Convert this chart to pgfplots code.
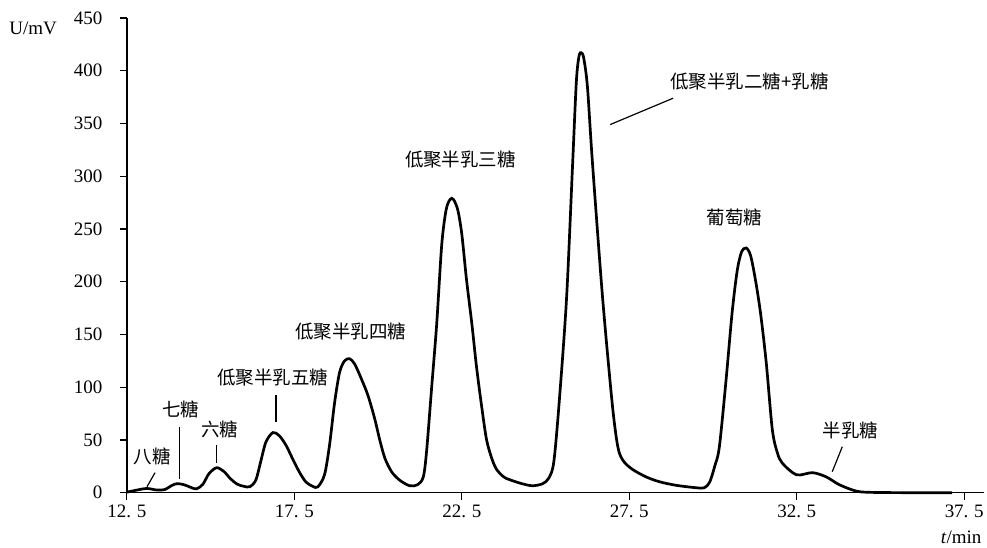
\documentclass[border=0pt]{standalone}
\usepackage{pgfplots}
\pgfplotsset{compat=1.18}
\usepackage{fontspec}
\setmainfont{Liberation Serif}
\newfontfamily\cjk{Noto Sans CJK SC}
\newcommand\lab{\fontsize{19}{22}\selectfont}
\newcommand\cjklab{\cjk\fontsize{18.5}{22}\selectfont}

\begin{document}
\begin{tikzpicture}
\begin{axis}[
    scale only axis,
    width=858pt, height=475pt,
    xmin=12.5, xmax=38.1,
    ymin=0, ymax=450,
    axis x line*=bottom,
    axis y line*=left,
    axis line style={line width=1.4pt, -},
    tick style={line width=1.2pt, black},
    tick align=outside,
    major tick length=7pt,
    xtick={12.5,17.5,22.5,27.5,32.5,37.5},
    xticklabels={12.\hspace{0.3em}5,17.\hspace{0.3em}5,22.\hspace{0.3em}5,27.\hspace{0.3em}5,32.\hspace{0.3em}5,37.\hspace{0.3em}5},
    ytick={0,50,...,450},
    /pgf/number format/assume math mode=true,
    tick label style={font=\lab},
    yticklabel style={xshift=-14pt},
    xticklabel style={yshift=-2pt},
    clip=false,
]
\addplot[black, line width=2.7pt, smooth, tension=0.5] coordinates {
(12.50,0.5) (12.80,2.5) (13.10,4) (13.40,2.5) (13.63,3) (13.85,7)
(13.99,8.5) (14.15,8) (14.29,6.6) (14.45,4.5) (14.59,3.8) (14.77,8)
(14.95,18) (15.18,23.7) (15.40,20) (15.60,13) (15.80,8) (16.00,6)
(16.17,5.7) (16.35,12) (16.50,30) (16.65,48) (16.86,57) (17.05,54)
(17.25,45) (17.45,32) (17.66,19) (17.85,10) (18.05,6) (18.20,5.5)
(18.40,17) (18.55,45) (18.70,85) (18.85,114) (19.00,125) (19.15,127)
(19.30,122) (19.50,108) (19.70,92) (19.90,70) (20.05,50) (20.20,33)
(20.40,20) (20.64,12) (20.94,6.6) (21.18,7.6) (21.35,15) (21.45,40)
(21.60,100) (21.75,160) (21.90,235) (22.03,268) (22.15,278) (22.25,278)
(22.38,268) (22.50,245) (22.64,202) (22.80,160) (22.94,119) (23.10,80)
(23.24,50) (23.40,32) (23.54,22) (23.75,15) (23.93,12.3) (24.30,8.5)
(24.61,6.6) (24.91,8.5) (25.10,14) (25.25,30) (25.42,91) (25.63,186)
(25.81,313) (25.92,390) (26.00,414) (26.07,417) (26.14,412) (26.25,385)
(26.40,313) (26.70,186) (26.97,91) (27.10,55) (27.20,38) (27.35,29)
(27.60,22) (28.00,15) (28.40,10.4) (28.90,7) (29.50,4.7) (29.74,4.7)
(29.90,10) (30.05,25) (30.19,43.6) (30.39,107) (30.57,170.6) (30.72,210)
(30.85,228) (30.99,232) (31.12,225) (31.26,203) (31.42,170) (31.59,123)
(31.77,60) (31.92,38) (32.07,28) (32.49,17) (32.97,19) (33.38,15)
(33.77,7.6) (34.28,1.5) (34.76,0.3) (36.00,0) (37.14,0)
};
% labels
\node[font=\lab] at (axis cs:9.70,440) {U/mV};
\node[font=\lab] at (axis cs:37.41,-42.7) {\textit{t}/min};
\node[font=\cjklab] at (axis cs:13.25,34) {八糖};
\node[font=\cjklab] at (axis cs:14.11,78.7) {七糖};
\node[font=\cjklab] at (axis cs:15.27,59.7) {六糖};
\node[font=\cjklab] at (axis cs:16.86,109) {低聚半乳五糖};
\node[font=\cjklab] at (axis cs:19.18,152.6) {低聚半乳四糖};
\node[font=\cjklab] at (axis cs:22.46,315.6) {低聚半乳三糖};
\node[font=\cjklab] at (axis cs:31.09,389.6) {低聚半乳二糖+乳糖};
\node[font=\cjklab] at (axis cs:30.64,260.7) {葡萄糖};
\node[font=\cjklab] at (axis cs:34.10,58.8) {半乳糖};
% pointer lines
\draw[line width=1.2pt] (axis cs:13.10,5.7) -- (axis cs:13.34,19);
\draw[line width=1.2pt] (axis cs:14.08,13.3) -- (axis cs:14.08,62.6);
\draw[line width=1.2pt] (axis cs:15.18,28.4) -- (axis cs:15.18,45.5);
\draw[line width=1.2pt] (axis cs:16.95,67.3) -- (axis cs:16.95,92.9);
\draw[line width=1.2pt] (axis cs:26.93,349) -- (axis cs:28.81,374);
\draw[line width=1.2pt] (axis cs:33.56,19.9) -- (axis cs:33.86,43.6);
% page frame
\path (axis description cs:-0.148,1.038) rectangle (axis description cs:1.0023,-0.1137);
\end{axis}
\end{tikzpicture}
\end{document}
